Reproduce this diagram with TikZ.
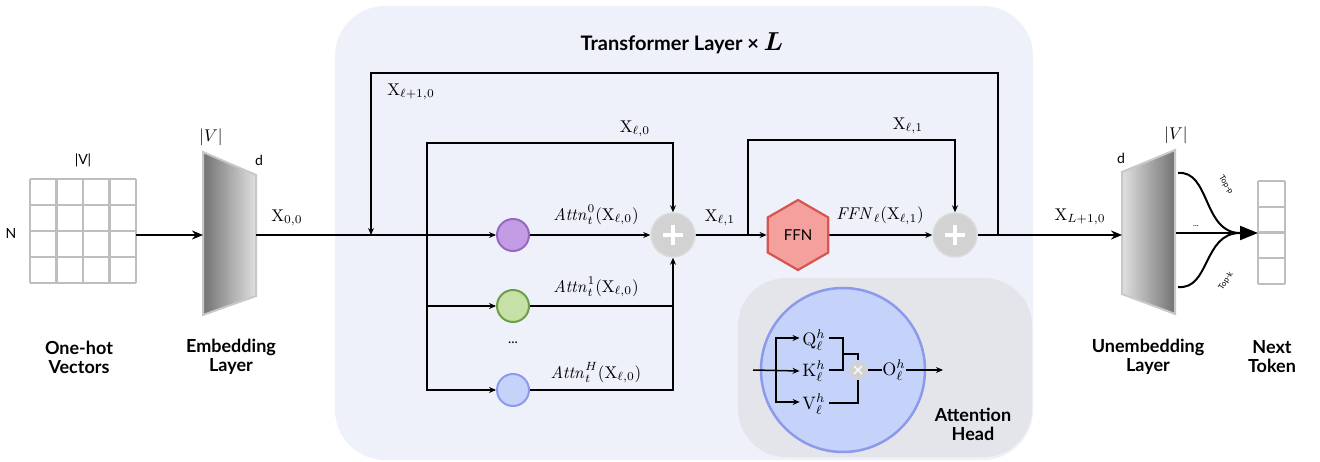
\documentclass[tikz,border=0pt]{standalone}
\usepackage[no-math]{fontspec}
\usepackage{bm}
\setmainfont{Lato}
\usetikzlibrary{arrows.meta,shapes.geometric,calc}
\newcommand{\mymath}[1]{\scalebox{1.7}{$#1$}}
\newcommand{\mybig}[1]{\scalebox{1.8}{$#1$}}
\definecolor{panelbg}{RGB}{238,241,250}
\definecolor{headbg}{RGB}{228,229,234}
\definecolor{gridgray}{RGB}{190,190,190}
\definecolor{plusgray}{RGB}{210,210,210}
\definecolor{plusring}{RGB}{220,220,220}
\definecolor{purpfill}{RGB}{196,156,230}
\definecolor{purpline}{RGB}{150,104,190}
\definecolor{greenfill}{RGB}{198,224,166}
\definecolor{greenline}{RGB}{108,158,74}
\definecolor{bluefill}{RGB}{197,211,251}
\definecolor{blueline}{RGB}{140,154,235}
\definecolor{ffnfill}{RGB}{244,160,156}
\definecolor{ffnline}{RGB}{216,84,80}
\definecolor{trapline}{RGB}{200,200,200}
\begin{document}
\begin{tikzpicture}[x=1pt,y=-1pt, line width=1.6pt,
  arr/.style={-{Stealth[length=7pt,width=6pt]}},
  bigarr/.style={line width=2pt,-{Stealth[length=11pt,width=9pt]}},
  lbl/.style={font=\fontsize{18}{21}\selectfont\bfseries, align=center},
  ttl/.style={font=\fontsize{20}{23}\selectfont\bfseries},
  mth/.style={inner sep=0pt},
  txt/.style={font=\fontsize{14}{17}\selectfont, inner sep=0pt},
  tiny/.style={font=\fontsize{8}{9}\selectfont, inner sep=0pt},
  cell/.style={draw=gridgray, line width=2.2pt},
  headc/.style={circle, minimum size=32pt, line width=2pt, inner sep=0pt},
  plusc/.style={circle, fill=plusgray, draw=plusring, line width=1.5pt, minimum size=44pt, inner sep=0pt},
  box/.style={inner sep=0pt, outer sep=0pt},
]
\useasboundingbox (0,0) rectangle (1320,462);

% panels
\fill[panelbg, rounded corners=50pt] (335,6) rectangle (1033,460);
\fill[headbg, rounded corners=48pt] (738,278) rectangle (1032,457);
\node[ttl] (title) at (682,43) {Transformer Layer \char"D7{} \scalebox{1.25}{$\bm{L}$}};

% one-hot grid
\node[box, minimum width=106pt, minimum height=104pt] (onehot) at (83,231) {};
\foreach \i in {0,...,4} {
  \draw[cell] (30+\i*26.5,179) -- (30+\i*26.5,283);
  \draw[cell] (30,179+\i*26) -- (136,179+\i*26);
}
\node[txt] (gv) at (83,160) {|V|};
\node[txt] (gn) at (11,233) {N};
\node[lbl] (l1) at (79,357) {One-hot\\[-2pt]Vectors};

% embedding layer
\node[box, minimum width=53pt, minimum height=160pt] (emb) at (229.5,235) {};
\shade[left color=black!55, right color=black!12] (203,152) -- (256,175) -- (256,296) -- (203,315) -- cycle;
\draw[trapline, line width=2pt] (203,152) -- (256,175) -- (256,296) -- (203,315) -- cycle;
\node[mth] (ev) at (211,137) {\mymath{|V|}};
\node[txt] (ed) at (259,160) {d};
\node[lbl] (l2) at (231,357) {Embedding\\[-2pt]Layer};
\draw[bigarr] (onehot.east |- emb.west) -- (emb.west);
\node[mth] (x00) at (287,218) {\mymath{\mathrm{X}_{0,0}}};

% heads
\coordinate (loopL) at (371,235);
\coordinate (j1) at (427,235);
\coordinate (j2) at (748,235);
\coordinate (j3) at (998,235);
\coordinate (skipA) at (0,143);
\coordinate (skipB) at (0,140);
\coordinate (loopTop) at (998,73);
\node[headc, fill=purpfill, draw=purpline] (h0) at (513,235) {};
\node[headc, fill=greenfill, draw=greenline] (h1) at (513,306) {};
\node[headc, fill=bluefill, draw=blueline] (hH) at (513,390) {};
\node[txt] (dots) at (513,343) {...};
\node[plusc] (plus1) at (673,235) {};
\draw[white, line width=3.5pt] (663,235) -- (683,235) (673,225) -- (673,245);
\node[regular polygon, regular polygon sides=6, shape border rotate=30, minimum size=70pt, fill=ffnfill, draw=ffnline, line width=2.2pt, inner sep=0pt, font=\fontsize{15}{18}\selectfont] (ffn) at (798,235) {FFN};
\node[plusc] (plus2) at (955,235) {};
\draw[white, line width=3.5pt] (945,235) -- (965,235) (955,225) -- (955,245);

\draw[line width=2pt, arr] (emb.east) -- (h0.west);
\draw[line width=2pt, arr] (j3) -- (loopTop) -| (loopL);
\node[mth] (xl10) at (411,92) {\mymath{\mathrm{X}_{\ell+1,0}}};
\draw[arr] (j1) -- (j1 |- skipA) -| (plus1.north);
\node[mth] (xl0) at (635,129) {\mymath{\mathrm{X}_{\ell,0}}};
\draw[arr] (j1) |- (h1.west);
\draw[arr] (j1) |- (hH.west);
\draw[arr] (h0.east) -- (plus1.west);
\draw (h1.east) -- (h1.east -| plus1.south);
\draw[arr] (hH.east) -| (plus1.south);
\node[mth] (a0) at (596,215) {\mymath{\mathit{Attn}_t^0(\mathrm{X}_{\ell,0})}};
\node[mth] (a1) at (596,287) {\mymath{\mathit{Attn}_t^1(\mathrm{X}_{\ell,0})}};
\node[mth] (aH) at (596,373) {\mymath{\mathit{Attn}_t^H(\mathrm{X}_{\ell,0})}};
\draw[arr] (plus1.east) -- (ffn.west);
\node[mth] (xl1a) at (720,218) {\mymath{\mathrm{X}_{\ell,1}}};
\draw[arr] (j2) -- (j2 |- skipB) -| (plus2.north);
\node[mth] (xl1b) at (908,126) {\mymath{\mathrm{X}_{\ell,1}}};
\draw[arr] (ffn.east) -- (plus2.west);
\node[mth] (ffnl) at (880,216) {\mymath{\mathit{FFN}_\ell(\mathrm{X}_{\ell,1})}};

% attention head detail
\node[circle, minimum size=164pt, fill=bluefill, draw=blueline, line width=2.5pt, inner sep=0pt] (ahc) at (843,370) {};
\node[mth] (Q) at (814,340) {\mybig{\mathrm{Q}_\ell^h}};
\node[mth] (K) at (814,371) {\mybig{\mathrm{K}_\ell^h}};
\node[mth] (V) at (814,404) {\mybig{\mathrm{V}_\ell^h}};
\node[circle, fill=plusgray, minimum size=18pt, inner sep=0pt] (mul) at (858,370) {};
\draw[white, line width=1.2pt] (854,366) -- (862,374) (854,374) -- (862,366);
\node[mth] (O) at (894,370) {\mybig{\mathrm{O}_\ell^h}};
\coordinate (ain) at (753,370);
\coordinate (abr) at (776,370);
\coordinate (qk) at (843,354);
\coordinate (aout) at (943,370);
\draw[line width=1.5pt, arr] (ain) -- ($(K.west)+(-2,0)$);
\draw[line width=1.5pt, arr] (abr) |- ($(Q.west)+(-2,-2)$);
\draw[line width=1.5pt, arr] (abr) |- ($(V.west)+(-2,-2)$);
\draw[line width=1.5pt] ($(Q.east)+(3,-2)$) -| (qk) |- ($(K.east)+(3,-1)$);
\draw[line width=1.5pt] (qk) -| (mul.north);
\draw[line width=1.5pt] ($(V.east)+(3,-1)$) -| (mul.south);
\draw[line width=1.5pt] (mul.east) -- (O.west);
\draw[line width=1.5pt, arr] (O.east) -- (aout);
\node[lbl] (l5) at (973,424) {Attention\\[-2pt]Head};

% unembedding
\node[box, minimum width=53pt, minimum height=165pt] (unemb) at (1148.5,235) {};
\shade[left color=black!12, right color=black!55] (1122,172) -- (1175,150) -- (1175,314) -- (1122,294) -- cycle;
\draw[trapline, line width=2pt] (1122,172) -- (1175,150) -- (1175,314) -- (1122,294) -- cycle;
\draw[bigarr] (plus2.east) -- (unemb.west);
\node[mth] (xL) at (1080,217) {\mymath{\mathrm{X}_{L+1,0}}};
\node[txt] (ud) at (1121,158) {d};
\node[mth] (uv) at (1176,135) {\mymath{|V|}};
\node[lbl] (l3) at (1148,357) {Unembedding\\[-2pt]Layer};

% next token
\node[box, minimum width=27pt, minimum height=103pt] (tok) at (1271.5,233) {};
\foreach \i in {0,...,4} \draw[cell] (1258,181+\i*25.75) -- (1285,181+\i*25.75);
\draw[cell] (1258,181) -- (1258,284) (1285,181) -- (1285,284);
\coordinate (topp) at (1178,173);
\coordinate (topk) at (1178,287);
\coordinate (merge) at (1240,233);
\draw[line width=2pt] (topp) .. controls (1210,170) and (1203,233) .. (merge);
\draw[line width=2pt] (topk) .. controls (1210,290) and (1203,233) .. (merge);
\draw[line width=2pt, -{Triangle[length=18pt,width=14pt]}] (1176,233) -- (tok.west);
\node[tiny, rotate=-58] (tp) at (1226,185) {Top-p};
\node[tiny, rotate=58] (tk) at (1226,281) {Top-k};
\node[tiny] (ud2) at (1196,226) {...};
\node[lbl] (l4) at (1272,357) {Next\\[-2pt]Token};
\end{tikzpicture}
\end{document}
